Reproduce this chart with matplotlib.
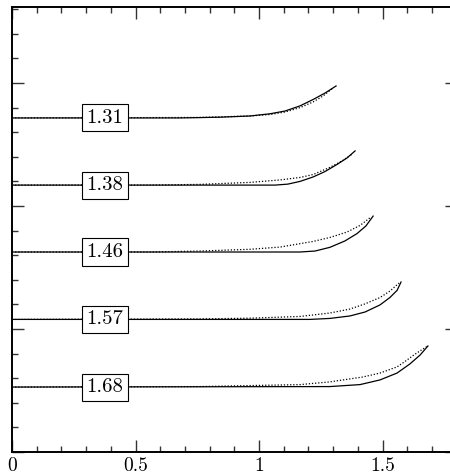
import matplotlib
matplotlib.use("Agg")
import matplotlib.pyplot as plt
from matplotlib.ticker import MultipleLocator

plt.rcParams['font.family'] = ['cmr10', 'DejaVu Serif']
plt.rcParams['axes.formatter.use_mathtext'] = True

# curve labels (end point of each curve)
labels = ['1.31', '1.38', '1.46', '1.57', '1.68']

# solid curves
solid_x = [
    [0, 0.680, 0.842, 0.964, 1.045, 1.105, 1.166, 1.219, 1.267, 1.312],
    [0, 1.065, 1.117, 1.166, 1.219, 1.267, 1.316, 1.356, 1.389],
    [0, 1.166, 1.227, 1.287, 1.348, 1.397, 1.433, 1.462],
    [0, 1.206, 1.287, 1.368, 1.429, 1.490, 1.530, 1.559, 1.575],
    [0, 1.287, 1.409, 1.490, 1.559, 1.611, 1.652, 1.684],
]
solid_y = [
    [1.358, 1.358, 1.361, 1.366, 1.375, 1.386, 1.407, 1.433, 1.459, 1.488],
    [1.085, 1.085, 1.089, 1.100, 1.118, 1.140, 1.169, 1.195, 1.224],
    [0.813, 0.813, 0.817, 0.832, 0.858, 0.888, 0.919, 0.959],
    [0.539, 0.539, 0.543, 0.553, 0.569, 0.598, 0.628, 0.657, 0.691],
    [0.264, 0.266, 0.274, 0.293, 0.321, 0.358, 0.394, 0.431],
]

# dotted curves
dot_x = [
    [0, 0.761, 0.964, 1.045, 1.105, 1.166, 1.219, 1.259, 1.300],
    [0, 0.559, 0.761, 0.964, 1.085, 1.166, 1.219, 1.287, 1.336, 1.377],
    [0, 0.559, 0.761, 0.964, 1.085, 1.219, 1.287, 1.356, 1.409, 1.453],
    [0, 0.761, 0.964, 1.166, 1.287, 1.368, 1.429, 1.490, 1.530, 1.567],
    [0, 0.761, 1.166, 1.287, 1.421, 1.490, 1.559, 1.591, 1.632, 1.680],
]
dot_y = [
    [1.358, 1.360, 1.366, 1.372, 1.382, 1.400, 1.423, 1.447, 1.480],
    [1.085, 1.085, 1.088, 1.096, 1.106, 1.116, 1.128, 1.157, 1.183, 1.211],
    [0.813, 0.813, 0.817, 0.824, 0.833, 0.856, 0.872, 0.894, 0.921, 0.955],
    [0.539, 0.541, 0.544, 0.551, 0.565, 0.581, 0.602, 0.628, 0.654, 0.687],
    [0.264, 0.266, 0.274, 0.285, 0.305, 0.321, 0.346, 0.368, 0.398, 0.429],
]

label_x = 0.377
xticks = [0, 0.5, 1, 1.5]
xtick_labels = ['0', '0.5', '1', '1.5']

fig = plt.figure(figsize=(4.5, 4.76), dpi=100)
# axes runs past the right edge of the figure, as in the original crop
ax = fig.add_axes([12 / 450, 24 / 476, 444.6 / 450, 445 / 476])

for i in range(len(labels)):
    ax.plot(solid_x[i], solid_y[i], color='black', lw=0.9)
    ax.plot(dot_x[i], dot_y[i], color='black', lw=0.9, linestyle=(0, (1, 1.5)))
    ax.text(label_x, solid_y[i][0], labels[i], fontsize=15, ha='center', va='center',
            bbox=dict(boxstyle='square,pad=0.22', fc='white', ec='black', lw=0.8), zorder=5)

ax.set_xlim(0, 1.8)
ax.set_ylim(0, 1.809)
ax.set_xticks(xticks, labels=xtick_labels)
ax.xaxis.set_minor_locator(MultipleLocator(0.1))
ax.yaxis.set_major_locator(MultipleLocator(0.5))
ax.yaxis.set_minor_locator(MultipleLocator(0.1))
ax.tick_params(which='both', direction='in', top=True, right=True, width=1.0, color='#333333')
ax.tick_params(which='major', length=8.6, pad=4, labelsize=14)
ax.tick_params(which='minor', length=4.3)
ax.tick_params(axis='y', labelleft=False)
for s in ax.spines.values():
    s.set_linewidth(1.4)

fig.savefig('out.png', dpi=100)
